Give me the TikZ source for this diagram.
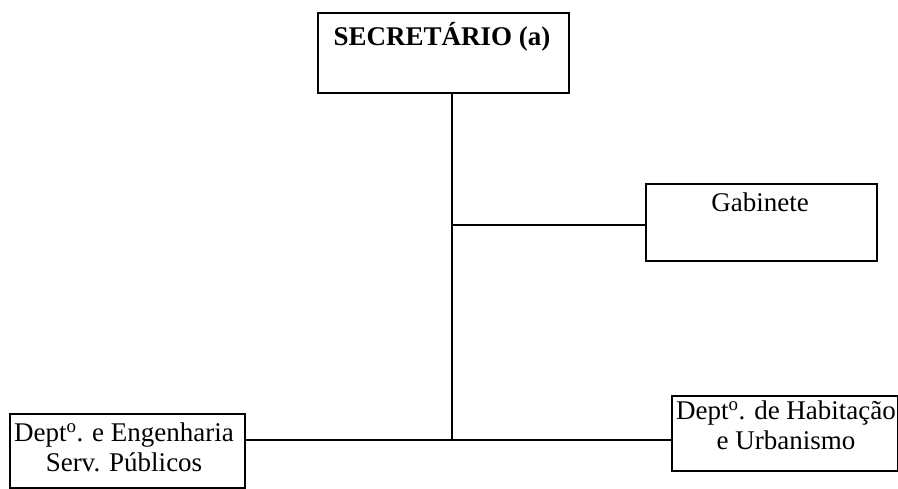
\documentclass[tikz,border=0pt]{standalone}
\usepackage{fontspec}
\setmainfont{Liberation Serif}
\begin{document}
\begin{tikzpicture}[x=1pt,y=-1pt,
  box/.style={draw,line width=1.8pt,inner sep=0pt,anchor=north west},
  txt/.style={inner sep=0pt,align=center,font=\fontsize{27}{30}\selectfont},
  conn/.style={line width=1.8pt}]
\useasboundingbox (0,0) rectangle (898,489);
% boxes
\node[box,minimum width=251pt,minimum height=80pt] (sec) at (317,12) {};
\node[txt,font=\fontsize{27}{30}\selectfont\bfseries] (secT) at (442,37) {SECRETÁRIO (a)};
\node[box,minimum width=231pt,minimum height=77pt] (gab) at (645,183) {};
\node[txt] (gabT) at (760,202) {Gabinete};
\node[box,minimum width=235pt,minimum height=74pt] (dep) at (9,413) {};
\node[txt] (depT) at (124,447) {Dept\textsuperscript{o}. e Engenharia\\Serv. Públicos};
\node[box,minimum width=226pt,minimum height=75pt] (hab) at (671,395) {};
\node[txt] (habT) at (786,425) {Dept\textsuperscript{o}. de Habitação\\e Urbanismo};
% connectors
\coordinate (top) at (452,92);
\coordinate (jg) at (452,225);
\coordinate (jb) at (452,440);
\draw[conn] (top) -- (jb);
\draw[conn] (jg) -- (gab.west |- jg);
\draw[conn] (dep.east |- jb) -- (hab.west |- jb);
\end{tikzpicture}
\end{document}
